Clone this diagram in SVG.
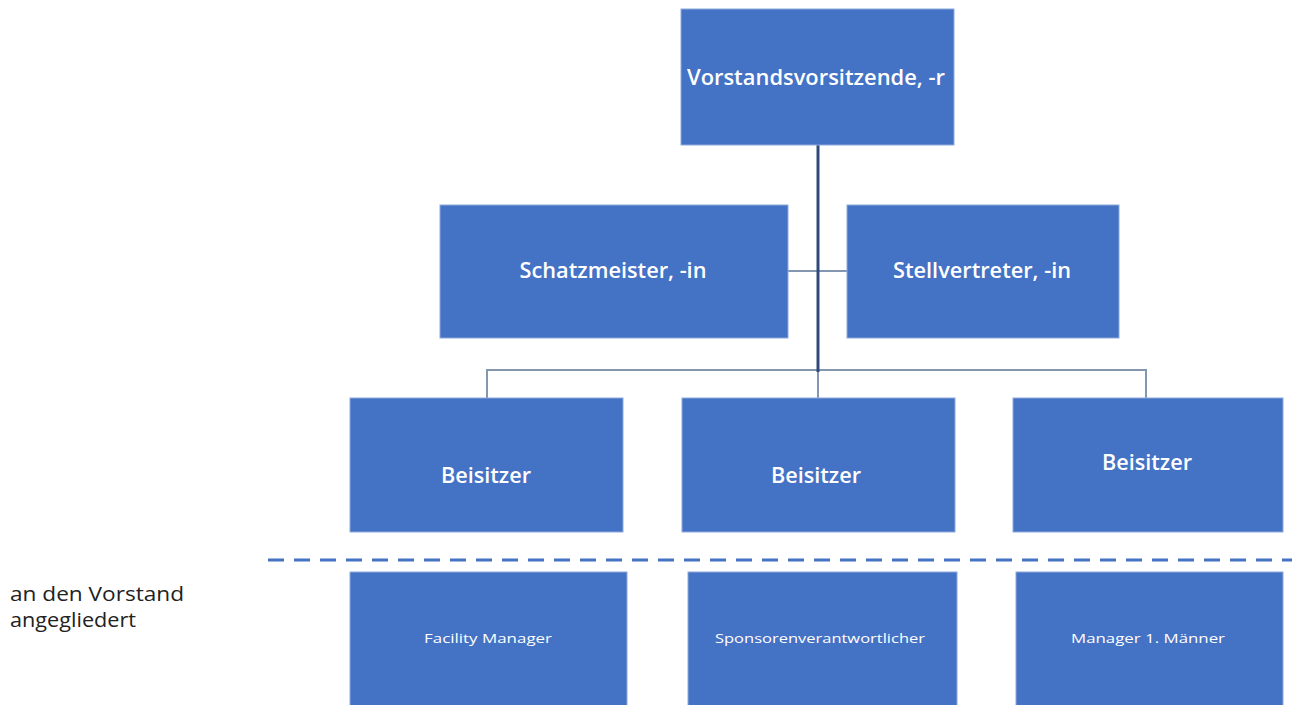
<svg xmlns="http://www.w3.org/2000/svg" width="1295" height="705" viewBox="0 0 1295 705">
<style>
.box{fill:#4472c4;stroke:#8eaadb;stroke-width:1}
.t{fill:#ffffff;font-family:"Open Sans","Liberation Sans",sans-serif;text-anchor:middle}
.big{font-size:22px;font-weight:600}
.small{font-size:13px}
.conn{stroke:#8497b0;stroke-width:2;fill:none}
.main{stroke:#2f4a7a;stroke-width:3;fill:none}
.side{font-family:"Open Sans","Liberation Sans",sans-serif;font-size:20px;fill:#222222}
</style>
<rect width="1295" height="705" fill="#ffffff"/>
<g id="connectors">
<line class="conn" x1="788" y1="271" x2="847" y2="271"/>
<polyline class="conn" points="487,398 487,370 1146,370 1146,398"/>
<line class="conn" x1="818" y1="370" x2="818" y2="398"/>
<line class="main" x1="818" y1="145" x2="818" y2="372"/>
<line x1="268" y1="560" x2="1292" y2="560" stroke="#4472c4" stroke-width="3" stroke-dasharray="16,10"/>
</g>
<g id="n-vorsitz">
<rect class="box" x="681" y="9" width="273" height="136"/>
<text class="t big" x="816" y="85" textLength="258" lengthAdjust="spacingAndGlyphs">Vorstandsvorsitzende, -r</text>
</g>
<g id="n-schatz">
<rect class="box" x="440" y="205" width="348" height="133"/>
<text class="t big" x="613" y="278" textLength="187" lengthAdjust="spacingAndGlyphs">Schatzmeister, -in</text>
</g>
<g id="n-stell">
<rect class="box" x="847" y="205" width="272" height="133"/>
<text class="t big" x="982" y="278" textLength="178" lengthAdjust="spacingAndGlyphs">Stellvertreter, -in</text>
</g>
<g id="n-beisitzer1">
<rect class="box" x="350" y="398" width="273" height="134"/>
<text class="t big" x="486" y="483" textLength="90" lengthAdjust="spacingAndGlyphs">Beisitzer</text>
</g>
<g id="n-beisitzer2">
<rect class="box" x="682" y="398" width="273" height="134"/>
<text class="t big" x="816" y="483" textLength="90" lengthAdjust="spacingAndGlyphs">Beisitzer</text>
</g>
<g id="n-beisitzer3">
<rect class="box" x="1013" y="398" width="270" height="134"/>
<text class="t big" x="1147" y="470" textLength="90" lengthAdjust="spacingAndGlyphs">Beisitzer</text>
</g>
<g id="n-facility">
<rect class="box" x="350" y="572" width="277" height="135"/>
<text class="t small" x="488" y="643" textLength="128" lengthAdjust="spacingAndGlyphs">Facility Manager</text>
</g>
<g id="n-sponsor">
<rect class="box" x="688" y="572" width="269" height="135"/>
<text class="t small" x="820" y="643" textLength="210" lengthAdjust="spacingAndGlyphs">Sponsorenverantwortlicher</text>
</g>
<g id="n-manager">
<rect class="box" x="1016" y="572" width="267" height="135"/>
<text class="t small" x="1148" y="643" textLength="154" lengthAdjust="spacingAndGlyphs">Manager 1. Männer</text>
</g>
<g id="label">
<text class="side" x="10" y="601" textLength="174" lengthAdjust="spacingAndGlyphs">an den Vorstand</text>
<text class="side" x="10" y="627" textLength="126" lengthAdjust="spacingAndGlyphs">angegliedert</text>
</g>
</svg>
